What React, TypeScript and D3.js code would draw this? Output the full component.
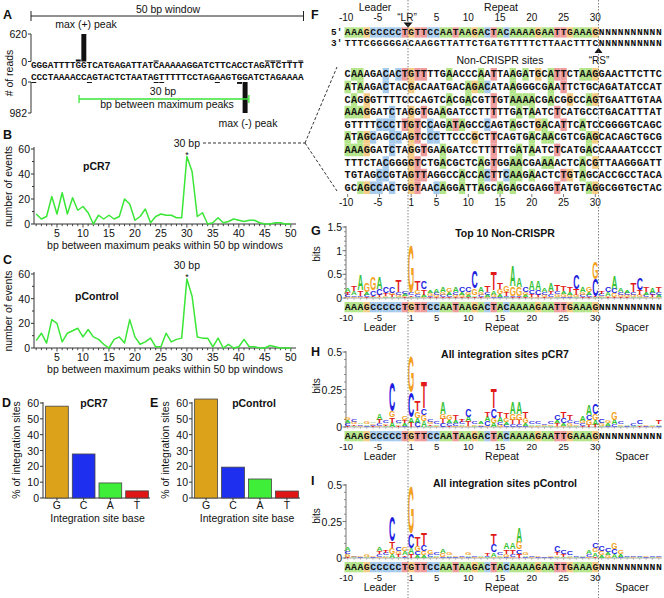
import React from "react";
import * as d3 from "d3";

const SANS = "'Liberation Sans', Arial, Helvetica, sans-serif";
const MONO = "'Liberation Mono', 'DejaVu Sans Mono', monospace";

// ---------- Panel A ----------
const windowTop = "GGGATTTTGGTCATGAGATTATCAAAAAGGATCTTCACCTAGATCTTTT";
const windowBottom = "CCCTAAAACCAGTACTCTAATAGTTTTTCCTAGAAGTGGATCTAGAAAA";
const plusReads: [number, number][] = [[8, 45], [9, 620], [22, 15], [42, 15], [43, 15], [44, 15], [46, 15], [48, 15]];
const minusReads: [number, number][] = [[0, 15], [10, 15], [22, 15], [23, 15], [33, 15], [37, 60], [38, 982]];
const plusMax = 620;
const minusMax = 982;
const plusPeakIdx = 9;
const minusPeakIdx = 38;

// ---------- Panels B, C ----------
const eventsPCR7 = [8, 4, 6, 22, 8, 25, 8, 21, 11, 14, 9, 0, 7, 4, 7, 4, 6, 20, 16, 3, 6, 12, 1, 6, 8, 7, 7, 5, 5, 54, 42, 6, 9, 0, 1, 5, 1, 2, 4, 3, 2, 3, 3, 1, 0, 0, 1, 1, 0, 0];
const eventsPControl = [6, 12, 4, 23, 20, 5, 12, 14, 16, 9, 15, 9, 7, 3, 0, 7, 9, 4, 23, 9, 3, 5, 8, 1, 1, 12, 5, 7, 8, 56, 42, 9, 8, 8, 1, 8, 0, 3, 0, 1, 7, 1, 1, 0, 0, 2, 1, 0, 0, 0];
const xTicksBC = [5, 10, 15, 20, 25, 30, 35, 40, 45, 50];
const yTicksBC = [0, 20, 40, 60];

// ---------- Panels D, E ----------
const siteBases = ["G", "C", "A", "T"];
const sitesPCR7 = [58, 27.8, 9.5, 4.5];
const sitesPControl = [62.5, 19.5, 12, 4.4];
const yTicksDE = [0, 10, 20, 30, 40, 50, 60];

// ---------- Panel F ----------
const leaderRepeat = "AAAGCCCCCTGTTCCAATAAGACTACAAAAGAATTGAAAGNNNNNNNNNN";
const leaderRepeatComp = "TTTCGGGGGACAAGGTTATTCTGATGTTTTCTTAACTTTCNNNNNNNNNN";
const nonCrisprSites = [
  "CAAAGACACTGTTTTGAACCCAATTAAGATGCATTCTAAGGAACTTCTTC",
  "ATAAGACTACGACAATGACAGACATAAGGGCGAATTCTGCAGATATCCAT",
  "CAGGGTTTTCCCAGTCACGACGTTGTAAAACGACGGCCAGTGAATTGTAA",
  "AAAGGATCTAGGTGAAGATCCTTTTTGATAATCTCATGCCTGACATTTAT",
  "GTTTTCCCTTGTCCAGATAGCCCAGTAGCTGACATTCATCCGGGGTCAGC",
  "ATAGCAGCCAGTCCCTTCCCGCTTCAGTGACAACGTCGAGCACAGCTGCG",
  "AAAGGATCTAGGTGAAGATCCTTTTTGATAATCTCATGACCAAAATCCCT",
  "TTTCTACGGGGTCTGACGCTCAGTGGAACGAAAACTCACGTTAAGGGATT",
  "TGTAGCCGTAGTTAGGCCACCACTTCAAGAACTCTGTAGCACCGCCTACA",
  "GCAGCCACTGGTAACAGGATTAGCAGAGCGAGGTATGTAGGCGGTGCTAC",
];
const posLabels = ["-10", "-5", "1", "5", "10", "15", "20", "25", "30"];
const posIndex = [0, 5, 10, 14, 19, 24, 29, 34, 39];

// ---------- Logos (letter heights in milli-bits per column) ----------
const logoTop10 = [
  "A70T50C40G30", "T120A80G30C30", "A320T110C30G20", "G180A60C40T30", "G280C120T30A20",
  "A250C130T40G30", "C150T60G30A20", "C150G50T40A20", "T250C50G40A30", "C60A40G30T20",
  "G1000C60A30T30", "T200G80C50A30", "C160T120A40G30", "G50A50C30T20", "A80C50G40T20",
  "A100G60C40T20", "G80A60C40T20", "A100C60G40T20", "C100A60G40T20", "C120G60A40T20",
  "C350G150T30A30", "A120G60C40T30", "T130C50A40G30", "T380A90G40C30", "T150G100A50C30",
  "G150T80C30A20", "A450G200C30T20", "A200G180C30T20", "C100G60A40T30", "A200C80T50G30",
  "A200C100T50G20", "A80C60G50T20", "A170T60C50G30", "T150C60G50A30", "T120A60G50C30",
  "T100A50G40C30", "C300T140G40A20", "A100G60C40T20", "G100A60C40T30", "C350G350T30A20",
  "T60C40G30A20", "C100A80G30T20", "A280C100G80T20", "A80C60G40T20", "A60C50G40T20",
  "T200C60G40A20", "C250T100G40A20", "T120A60C40G20", "A120C50T40G20", "T120C60A40G20",
];
const logoPCR7 = [
  "A20G20C15T10", "G15C15A10T10", "G10C10A10", "G20C10A10", "C10G10A10T5",
  "A40T25C15G10", "C20T10G10A5", "C190T35G45A30", "C20T10G10A10", "G25A20T20C10",
  "G240C170A35T30", "T70G45C30A30", "T180C45A40G40", "C20G15A10T10", "C15G10A10",
  "A80G35T30C25", "G30A20C15T10", "T30A20C15G10", "C15T15G10A10", "C55T30A30G10",
  "C15A10G10", "A20C10G10", "T35C30A30G10", "T130C65A30G30", "T35A30C20G15",
  "T30G25A20C15", "A80G40T30C20", "A80G40T30C20", "T40G30A20C10", "C15G10A10",
  "C15G10A10", "G10C10A5", "C15A10G10", "C30A20T15G10", "T40C30A20G10",
  "T30C20G15A10", "C15A10G10", "A30C15G15T10", "A70C35G30T15", "C70G40A30T15",
  "C25G15A10", "G20A15C10", "G50A30C20", "C20A10G10", "C10A10",
  "C15A10", "C25T10A10", "C10G10", "G10A10", "T25C10A10",
];
const logoPControl = [
  "A30G20C20T10", "G10A5C5", "C5G5", "G15A5", "C5G5",
  "A25C20T20G10", "T20C15G10A10", "C170T45G40A30", "C25G20T15A10", "G30A25C10T10",
  "G330C100A40T30", "T60G35C30A20", "T85C40G30A20", "G30C20A10", "C15G10A10",
  "A30G25C10", "G15C10A10", "C10G10", "C10G5", "G15C10A10",
  "C10G5", "A10G5", "T20C10A5", "T70C55A30G10", "C15A10G10",
  "A40T30G20C10", "A40T30C20G10", "A100G50T30C30", "G20C10A10", "C10G5",
  "G10C5", "C10", "C10G10", "C40T20A10G10", "C30T20A10",
  "C25G10A10", "C10A5", "A10C5", "A30C20G10", "C35A30G30T10",
  "C35G30A20", "C25G20A20", "G40C35A30", "G30A20C10", "C10A5",
  "C10G5", "C10A5", "C10G10", "C10A5", "C10G5",
];

// ---------- colours ----------
const logoColor: Record<string, string> = { A: "#36c236", C: "#1d1de0", G: "#f2a21e", T: "#e11919" };
const barColor: Record<string, string> = { G: "#dca21a", C: "#1f2ff0", A: "#3fee38", T: "#e01616" };
const hlColor: Record<string, string> = { A: "#b4e58b", C: "#a7cbec", G: "#f6cd86", T: "#ef9c9c" };
const lineGreen = "#3ae636";

// shared sequence scale for panel F/G/H/I
const CW = 6.35;
const seqX = d3.scaleLinear().domain([0, 50]).range([344.5, 344.5 + 50 * CW]);

function PanelLabel({ t, x, y }: { t: string; x: number; y: number }) {
  return (
    <text x={x} y={y} fontFamily={SANS} fontWeight="bold" fontSize={12.5}>
      {t}
    </text>
  );
}

function PanelA() {
  const xA = d3.scaleLinear().domain([0, windowTop.length]).range([31, 303.5]);
  const cw = xA(1) - xA(0);
  const yPlus = d3.scaleLinear().domain([0, plusMax]).range([61.5, 34]);
  const yMinus = d3.scaleLinear().domain([0, minusMax]).range([82, 113]);
  const gx1 = xA(plusPeakIdx) - 2;
  const gx2 = xA(minusPeakIdx + 1) + 1;
  return (
    <g>
      <PanelLabel t="A" x={3} y={19} />
      <line x1={xA(0)} x2={xA(windowTop.length)} y1={16} y2={16} stroke="#222" />
      <line x1={xA(0)} x2={xA(0)} y1={11} y2={21} stroke="#222" />
      <line x1={xA(windowTop.length)} x2={xA(windowTop.length)} y1={11} y2={21} stroke="#222" />
      <text x={168} y={12.5} textAnchor="middle" fontSize={10.5}>50 bp window</text>
      <text x={86} y={28} textAnchor="middle" fontSize={10.5}>max (+) peak</text>
      <text x={248} y={127} textAnchor="middle" fontSize={10.5}>max (-) peak</text>
      <line x1={31} x2={31} y1={yPlus(plusMax)} y2={yPlus(0)} stroke="#333" />
      <line x1={28} x2={31} y1={yPlus(plusMax)} y2={yPlus(plusMax)} stroke="#333" />
      <line x1={28} x2={31} y1={yPlus(0)} y2={yPlus(0)} stroke="#333" />
      <text x={27} y={yPlus(plusMax) + 4} textAnchor="end" fontSize={10.5}>{plusMax}</text>
      <text x={27} y={yPlus(0) + 4} textAnchor="end" fontSize={10.5}>0</text>
      <line x1={31} x2={31} y1={yMinus(0)} y2={yMinus(minusMax)} stroke="#333" />
      <line x1={28} x2={31} y1={yMinus(0)} y2={yMinus(0)} stroke="#333" />
      <line x1={28} x2={31} y1={yMinus(minusMax)} y2={yMinus(minusMax)} stroke="#333" />
      <text x={27} y={yMinus(0) + 4} textAnchor="end" fontSize={10.5}>0</text>
      <text x={27} y={yMinus(minusMax) + 4} textAnchor="end" fontSize={10.5}>{minusMax}</text>
      <text transform="translate(13,73) rotate(-90)" textAnchor="middle" fontSize={10.5}># of reads</text>
      {plusReads.map(([i, v]) => (
        <rect key={"p" + i} x={xA(i) + 0.3} width={cw - 0.6} y={Math.min(yPlus(v), yPlus(0) - 1)} height={Math.max(1, yPlus(0) - yPlus(v))} fill="#111" />
      ))}
      {minusReads.map(([i, v]) => (
        <rect key={"m" + i} x={xA(i) + 0.3} width={cw - 0.6} y={yMinus(0)} height={Math.max(1, yMinus(v) - yMinus(0))} fill="#111" />
      ))}
      {windowTop.split("").map((c, i) => (
        <text key={"t" + i} x={xA(i) + cw / 2} y={67.8} textAnchor="middle" fontFamily={MONO} fontWeight="bold" fontSize={9.4}>{c}</text>
      ))}
      {windowBottom.split("").map((c, i) => (
        <text key={"b" + i} x={xA(i) + cw / 2} y={80.2} textAnchor="middle" fontFamily={MONO} fontWeight="bold" fontSize={9.4}>{c}</text>
      ))}
      <line x1={gx1} x2={gx2} y1={99} y2={99} stroke={lineGreen} strokeWidth={1.3} />
      <line x1={gx1} x2={gx1} y1={95} y2={103} stroke={lineGreen} strokeWidth={1.3} />
      <line x1={gx2} x2={gx2} y1={95} y2={103} stroke={lineGreen} strokeWidth={1.3} />
      <text x={163} y={95} textAnchor="middle" fontSize={10.5}>30 bp</text>
      <text x={167} y={108} textAnchor="middle" fontSize={10.5}>bp between maximum peaks</text>
    </g>
  );
}

function LineChart({ data, yTop, yBottom, name, nameX, nameY, label, showDash }: any) {
  const x = d3.scaleLinear().domain([0.5, 51]).range([33.6, 296]);
  const y = d3.scaleLinear().domain([0, 60]).range([yBottom, yTop]);
  const line = d3.line<number>().x((_, i) => x(i + 1)).y((d) => y(d));
  const peakIdx = data.indexOf(d3.max(data) as number);
  const px = x(peakIdx + 1);
  const py = y(data[peakIdx]);
  const minor = d3.range(1, 51);
  return (
    <g>
      <PanelLabel t={label} x={3} y={yTop - 10} />
      <line x1={34} x2={34} y1={yTop - 2} y2={yBottom} stroke="#333" />
      {yTicksBC.map((t) => (
        <g key={t}>
          <line x1={31} x2={34} y1={y(t)} y2={y(t)} stroke="#333" />
          <text x={30} y={y(t) + 4} textAnchor="end" fontSize={10.5}>{t}</text>
        </g>
      ))}
      {[10, 30, 50].map((t) => (
        <line key={"m" + t} x1={32} x2={34} y1={y(t)} y2={y(t)} stroke="#333" />
      ))}
      <line x1={34} x2={296} y1={yBottom} y2={yBottom} stroke="#333" />
      {minor.map((t) => (
        <line key={"xm" + t} x1={x(t)} x2={x(t)} y1={yBottom} y2={yBottom + (t % 5 === 0 ? 3.5 : 2.2)} stroke="#333" strokeWidth={0.9} />
      ))}
      {xTicksBC.map((t) => (
        <text key={"xl" + t} x={x(t)} y={yBottom + 13} textAnchor="middle" fontSize={10.5}>{t}</text>
      ))}
      <text x={165} y={yBottom + 25} textAnchor="middle" fontSize={10.5}>bp between maximum peaks within 50 bp windows</text>
      <text transform={`translate(12,${(yTop + yBottom) / 2}) rotate(-90)`} textAnchor="middle" fontSize={10.5}>number of events</text>
      <path d={line(data) as string} fill="none" stroke={lineGreen} strokeWidth={1.5} strokeLinejoin="round" />
      <text x={nameX} y={nameY} fontWeight="bold" fontSize={10.5}>{name}</text>
      <text x={px} y={py + 1} textAnchor="middle" fontSize={9}>*</text>
      <text x={px} y={py - 10} textAnchor="middle" fontSize={10.5}>30 bp</text>
      {showDash && (
        <g stroke="#333" strokeDasharray="3 2" fill="none">
          <line x1={203} x2={305} y1={py - 13.5} y2={py - 13.5} />
          <line x1={305} y1={py - 13.5} x2={337} y2={67} />
          <line x1={305} y1={py - 13.5} x2={337} y2={191} />
        </g>
      )}
    </g>
  );
}

function BarChart({ values, x0, x1, label, labelX, title, titleX }: any) {
  const yTop = 403;
  const yBottom = 498;
  const y = d3.scaleLinear().domain([0, 60]).range([yBottom, yTop]);
  const x = d3.scaleBand<string>().domain(siteBases).range([x0 + 1, x1]).paddingInner(0.15).paddingOuter(0.06);
  return (
    <g>
      <PanelLabel t={label} x={labelX} y={407} />
      <line x1={x0} x2={x0} y1={yTop - 1} y2={yBottom} stroke="#333" />
      {yTicksDE.map((t) => (
        <g key={t}>
          <line x1={x0 - 3} x2={x0} y1={y(t)} y2={y(t)} stroke="#333" />
          <text x={x0 - 4} y={y(t) + 4} textAnchor="end" fontSize={10.5}>{t}</text>
        </g>
      ))}
      <line x1={x0} x2={x1} y1={yBottom} y2={yBottom} stroke="#333" />
      {siteBases.map((b, i) => (
        <g key={b}>
          <rect x={x(b)} width={x.bandwidth()} y={y(values[i])} height={yBottom - y(values[i])} fill={barColor[b]} stroke="#444" strokeWidth={0.8} />
          <line x1={x(b)! + x.bandwidth() / 2} x2={x(b)! + x.bandwidth() / 2} y1={yBottom} y2={yBottom + 2.5} stroke="#333" />
          <text x={x(b)! + x.bandwidth() / 2} y={509} textAnchor="middle" fontSize={10.5}>{b}</text>
        </g>
      ))}
      <text x={(x0 + x1) / 2 + 1} y={521.5} textAnchor="middle" fontSize={10.5}>Integration site base</text>
      <text transform={`translate(${x0 - 23},450) rotate(-90)`} textAnchor="middle" fontSize={10.5}>% of integration sites</text>
      <text x={titleX} y={407} textAnchor="middle" fontWeight="bold" fontSize={10.5}>{title}</text>
    </g>
  );
}

function SeqChars({ seq, y, hl, hlTop, hlH, fs = 10.4 }: { seq: string; y: number; hl: (c: string, i: number) => string | null; hlTop: number; hlH: number; fs?: number }) {
  return (
    <g>
      {seq.split("").map((c, i) => {
        const col = hl(c, i);
        return col ? <rect key={"h" + i} x={seqX(i)} y={hlTop} width={CW + 0.05} height={hlH} fill={col} /> : null;
      })}
      {seq.split("").map((c, i) => (
        <text key={"c" + i} x={seqX(i) + CW / 2} y={y} textAnchor="middle" fontFamily={MONO} fontWeight="bold" fontSize={fs}>{c}</text>
      ))}
    </g>
  );
}

function PositionNumbers({ y, skipOne, fs = 10 }: { y: number; skipOne?: boolean; fs?: number }) {
  return (
    <g>
      {posLabels.map((p, k) =>
        skipOne && p === "1" ? null : (
          <text key={p} x={seqX(posIndex[k]) + CW / 2 - (p.startsWith("-") ? 1.5 : 0)} y={y} textAnchor="middle" fontSize={fs}>{p}</text>
        )
      )}
    </g>
  );
}

function PanelF() {
  const consensusHL = (c: string, i: number) => (i < 40 && hlColor[c] ? hlColor[c] : null);
  const rowY = d3.scaleLinear().domain([0, 9]).range([77.3, 190.7]);
  return (
    <g>
      <PanelLabel t="F" x={311} y={19} />
      <text x={375} y={11} textAnchor="middle" fontSize={10.5}>Leader</text>
      <text x={501} y={11} textAnchor="middle" fontSize={10.5}>Repeat</text>
      <PositionNumbers y={21} skipOne />
      <text x={407} y={21} textAnchor="middle" fontSize={10}>{"\u201CLR\u201D"}</text>
      <path d={`M${seqX(10) - 4.5},22.5 L${seqX(10) + 4.5},22.5 L${seqX(10)},27.5 Z`} fill="#111" />
      <text x={331} y={35.2} fontFamily={MONO} fontWeight="bold" fontSize={9.4}>5'</text>
      <SeqChars seq={leaderRepeat} y={35.2} hl={consensusHL} hlTop={27.3} hlH={10.3} fs={9.6} />
      <text x={331} y={45.9} fontFamily={MONO} fontWeight="bold" fontSize={9.4}>3'</text>
      <SeqChars seq={leaderRepeatComp} y={45.9} hl={() => null} hlTop={0} hlH={0} fs={9.6} />
      <path d={`M${seqX(40) - 4},53 L${seqX(40) + 4},53 L${seqX(40)},47.8 Z`} fill="#111" />
      <text x={500} y={64} textAnchor="middle" fontSize={10.5}>Non-CRISPR sites</text>
      <text x={599} y={64} textAnchor="middle" fontSize={10}>{"\u201CRS\u201D"}</text>
      {nonCrisprSites.map((s, r) => (
        <SeqChars key={r} seq={s} y={rowY(r)} hl={(c, i) => (i < 40 && leaderRepeat[i] === c ? hlColor[c] : null)} hlTop={rowY(r) - 9.3} hlH={12.65} fs={10.2} />
      ))}
      {posIndex.map((p) => (
        <line key={p} x1={seqX(p) + CW / 2} x2={seqX(p) + CW / 2} y1={194} y2={197} stroke="#555" strokeWidth={0.8} />
      ))}
      <PositionNumbers y={205.5} />
    </g>
  );
}

function Glyph({ ch, x, w, yb, h }: { ch: string; x: number; w: number; yb: number; h: number }) {
  const fs = 100;
  const adv: Record<string, number> = { A: 0.69, C: 0.66, G: 0.71, T: 0.58 };
  const sx = w / (adv[ch] * fs);
  const sy = h / (0.716 * fs);
  return (
    <text transform={`translate(${x + w / 2},${yb}) scale(${sx},${sy})`} textAnchor="middle" fontFamily={SANS} fontWeight="bold" fontSize={fs} fill={logoColor[ch]}>
      {ch}
    </text>
  );
}

function Logo({ cols, y0, yTop, maxBits, majors, majorLabels, minorStep, title, titleY, bitsY, label }: any) {
  const y = d3.scaleLinear().domain([0, maxBits]).range([y0, yTop]);
  const minors = d3.range(0, maxBits + 1e-9, minorStep);
  return (
    <g>
      <PanelLabel t={label} x={311} y={titleY - 2} />
      <text transform={`translate(320,${bitsY}) rotate(-90)`} textAnchor="middle" fontSize={10}>bits</text>
      <line x1={346} x2={346} y1={yTop - 1} y2={y0} stroke="#777" />
      {minors.map((m: number, k: number) => (
        <line key={"mi" + k} x1={344} x2={346} y1={y(m)} y2={y(m)} stroke="#777" strokeWidth={0.8} />
      ))}
      {majors.map((m: number, k: number) => (
        <g key={"ma" + k}>
          <line x1={342.5} x2={346} y1={y(m)} y2={y(m)} stroke="#777" />
          <text x={342} y={y(m) + 4} textAnchor="end" fontSize={10.5}>{majorLabels[k]}</text>
        </g>
      ))}
      <line x1={346} x2={seqX(50)} y1={y0} y2={y0} stroke="#999" strokeWidth={0.8} />
      {cols.map((_: string, i: number) => (
        <line key={"xt" + i} x1={seqX(i) + CW / 2} x2={seqX(i) + CW / 2} y1={y0} y2={y0 + 1.8} stroke="#999" strokeWidth={0.7} />
      ))}
      {cols.map((s: string, i: number) => {
        const parts = (s.match(/[ACGT]\d+/g) || []).map((t) => ({ ch: t[0], v: +t.slice(1) / 1000 }));
        parts.sort((a, b) => a.v - b.v);
        let acc = 0;
        return (
          <g key={"col" + i}>
            {parts.map((p, k) => {
              const yb = y(acc);
              acc += p.v;
              const yt = y(acc);
              if (yb - yt < 0.3) return null;
              return <Glyph key={k} ch={p.ch} x={seqX(i) + 0.35} w={CW - 0.7} yb={yb} h={yb - yt} />;
            })}
          </g>
        );
      })}
      <text x={505} y={titleY} textAnchor="middle" fontWeight="bold" fontSize={10.5}>{title}</text>
      <SeqChars seq={leaderRepeat} y={y0 + 12.3} hl={(c, i) => (i < 40 && hlColor[c] ? hlColor[c] : null)} hlTop={y0 + 4} hlH={10.3} fs={9.8} />
      <PositionNumbers y={y0 + 22.5} fs={9.6} />
      <text x={380} y={y0 + 32.5} textAnchor="middle" fontSize={10.5}>Leader</text>
      <text x={502} y={y0 + 32.5} textAnchor="middle" fontSize={10.5}>Repeat</text>
      <text x={632} y={y0 + 32.5} textAnchor="middle" fontSize={10.5}>Spacer</text>
    </g>
  );
}

export default function App() {
  return (
    <svg width={664} height={598} style={{ position: "absolute", left: 0, top: 0, background: "#fff" }} fontFamily={SANS} fill="#111">
      <rect width={664} height={598} fill="#fff" />
      <PanelA />
      <LineChart data={eventsPCR7} yTop={149} yBottom={224} name="pCR7" nameX={83} nameY={170} label="B" showDash />
      <LineChart data={eventsPControl} yTop={274} yBottom={348} name="pControl" nameX={75} nameY={300} label="C" />
      <BarChart values={sitesPCR7} x0={43} x1={150} label="D" labelX={2} title="pCR7" titleX={94} />
      <BarChart values={sitesPControl} x0={192} x1={300} label="E" labelX={150} title="pControl" titleX={254} />
      <PanelF />
      <Logo cols={logoTop10} y0={298} yTop={227} maxBits={1.5} majors={[0, 0.5, 1, 1.5]} majorLabels={["0", "0.5", "1", "1.5"]} minorStep={0.1} title="Top 10 Non-CRISPR" titleY={237} bitsY={254} label="G" />
      <Logo cols={logoPCR7} y0={427} yTop={352} maxBits={0.5} majors={[0, 0.25, 0.5]} majorLabels={["0", "0.25", "0.5"]} minorStep={0.05} title="All integration sites pCR7" titleY={358} bitsY={386} label="H" />
      <Logo cols={logoPControl} y0={558} yTop={485} maxBits={0.5} majors={[0, 0.25, 0.5]} majorLabels={["0", "0.25", "0.5"]} minorStep={0.05} title="All integration sites pControl" titleY={487} bitsY={516} label="I" />
      <g stroke="#666" strokeDasharray="1.5 1.5" strokeWidth={0.8}>
        <line x1={seqX(10)} x2={seqX(10)} y1={0} y2={598} />
        <line x1={seqX(40)} x2={seqX(40)} y1={0} y2={598} />
      </g>
    </svg>
  );
}
